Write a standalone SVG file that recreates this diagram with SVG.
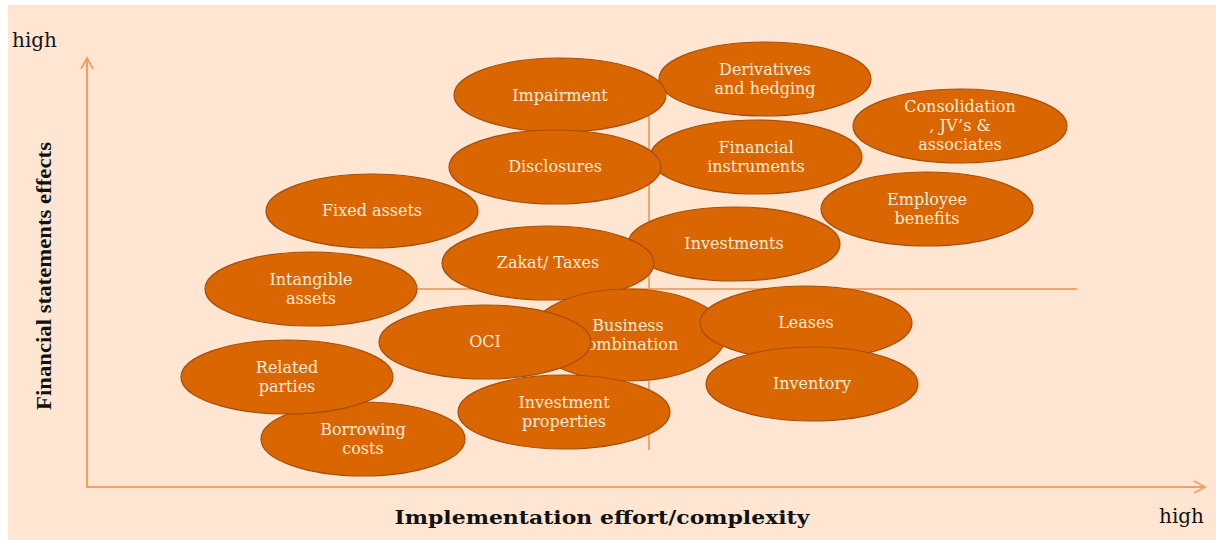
<svg xmlns="http://www.w3.org/2000/svg" width="1216" height="540" viewBox="0 0 1216 540">
<defs>
<style>
.bg{fill:#FEE6D2;}
.ax{stroke:#F0A062;stroke-width:2.2;fill:none;}
.q{stroke:#F2A66C;stroke-width:2;fill:none;}
.n ellipse{fill:#D96600;stroke:#A84E0A;stroke-width:1.2;}
.n text{font-family:"DejaVu Serif","Liberation Serif",serif;font-size:16px;fill:#FFEBD8;text-anchor:middle;}
.lab{font-family:"DejaVu Serif","Liberation Serif",serif;fill:#111;}
</style>
<marker id="arr" viewBox="0 0 14 14" refX="12" refY="7" markerWidth="14" markerHeight="14" markerUnits="userSpaceOnUse" orient="auto">
<path d="M1,1 L12,7 L1,13" fill="none" stroke="#F0A062" stroke-width="1.8"/>
</marker>
</defs>
<rect x="0" y="0" width="1216" height="540" fill="#FFFFFF"/>
<rect class="bg" x="8" y="5" width="1208" height="535"/>

<g id="connectors">
<line class="ax" x1="87" y1="488" x2="87" y2="58" marker-end="url(#arr)"/>
<line class="ax" x1="86" y1="487" x2="1205" y2="487" marker-end="url(#arr)"/>
<line class="q" x1="649" y1="96" x2="649" y2="450"/>
<line class="q" x1="412" y1="289" x2="1077" y2="289"/>
</g>

<g id="labels">
<text class="lab" x="12" y="47" font-size="20">high</text>
<text class="lab" x="1159" y="523" font-size="20">high</text>
<text class="lab" x="602" y="524" font-size="19" font-weight="bold" text-anchor="middle" textLength="415" lengthAdjust="spacingAndGlyphs">Implementation effort/complexity</text>
<text class="lab" transform="translate(51,276) rotate(-90)" font-size="21" font-weight="bold" text-anchor="middle" textLength="268" lengthAdjust="spacingAndGlyphs" style="font-family:'Liberation Serif',serif">Financial statements effects</text>
</g>

<g id="derivatives" class="n"><ellipse cx="765" cy="79" rx="106" ry="37"/><text x="765" y="75">Derivatives</text><text x="765" y="94">and hedging</text></g>
<g id="impairment" class="n"><ellipse cx="560" cy="95" rx="106" ry="37"/><text x="560" y="101">Impairment</text></g>
<g id="consolidation" class="n"><ellipse cx="960" cy="126" rx="107" ry="37"/><text x="960" y="112">Consolidation</text><text x="960" y="131">, JV’s &amp;</text><text x="960" y="150">associates</text></g>
<g id="financial-instruments" class="n"><ellipse cx="756" cy="157" rx="106" ry="37"/><text x="756" y="153">Financial</text><text x="756" y="172">instruments</text></g>
<g id="disclosures" class="n"><ellipse cx="555" cy="167" rx="106" ry="37"/><text x="555" y="172">Disclosures</text></g>
<g id="employee-benefits" class="n"><ellipse cx="927" cy="209" rx="106" ry="37"/><text x="927" y="205">Employee</text><text x="927" y="224">benefits</text></g>
<g id="fixed-assets" class="n"><ellipse cx="372" cy="211" rx="106" ry="37"/><text x="372" y="216">Fixed assets</text></g>
<g id="investments" class="n"><ellipse cx="734" cy="244" rx="106" ry="37"/><text x="734" y="249">Investments</text></g>
<g id="zakat-taxes" class="n"><ellipse cx="548" cy="263" rx="106" ry="37"/><text x="548" y="268">Zakat/ Taxes</text></g>
<g id="intangible-assets" class="n"><ellipse cx="311" cy="289" rx="106" ry="37"/><text x="311" y="285">Intangible</text><text x="311" y="304">assets</text></g>
<g id="business-combination" class="n"><ellipse cx="628" cy="335" rx="98" ry="46"/><text x="628" y="331">Business</text><text x="628" y="350">combination</text></g>
<g id="oci" class="n"><ellipse cx="485" cy="342" rx="106" ry="37"/><text x="485" y="347">OCI</text></g>
<g id="leases" class="n"><ellipse cx="806" cy="323" rx="106" ry="37"/><text x="806" y="328">Leases</text></g>
<g id="inventory" class="n"><ellipse cx="812" cy="384" rx="106" ry="37"/><text x="812" y="389">Inventory</text></g>
<g id="investment-properties" class="n"><ellipse cx="564" cy="412" rx="106" ry="37"/><text x="564" y="408">Investment</text><text x="564" y="427">properties</text></g>
<g id="borrowing-costs" class="n"><ellipse cx="363" cy="439" rx="102" ry="37"/><text x="363" y="435">Borrowing</text><text x="363" y="454">costs</text></g>
<g id="related-parties" class="n"><ellipse cx="287" cy="377" rx="106" ry="37"/><text x="287" y="373">Related</text><text x="287" y="392">parties</text></g>
</svg>
